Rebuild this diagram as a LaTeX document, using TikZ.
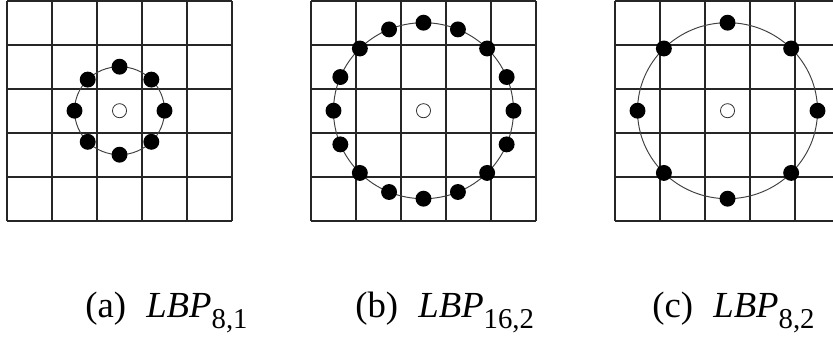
\documentclass[tikz,border=0pt]{standalone}
\usepackage{fontspec}
\setmainfont{Liberation Serif}
\usetikzlibrary{positioning}

% operator name with its lowered index
\newcommand{\lbpname}[1]{\textit{LBP}\raisebox{-0.3em}{\fontsize{18}{18}\selectfont #1}}

\begin{document}
\begin{tikzpicture}[
    x=0.99cm, y=0.968cm,
    % Styles for the pixel grid
    gridline/.style={line width=1.1pt, draw=black!85},
    ring/.style={line width=0.6pt, draw=black!75},
    % Styles for the sampling points
    dot/.style={circle, fill=black, inner sep=0pt, minimum size=0.35cm},
    centre/.style={
        circle,
        draw=black!80,
        line width=0.5pt,
        fill=white,
        inner sep=0pt,
        minimum size=0.31cm
    },
    % Style for the captions
    caption/.style={anchor=base west, inner sep=0pt, font=\fontsize{23}{27}\selectfont}
]

\useasboundingbox (0,0) rectangle (18.511,7.682);

% PANEL (a): 8 neighbours, radius 1
\begin{scope}[shift={(0.156,2.666)}]
    \foreach \k in {0,...,5} {
        \draw[gridline] (\k,0) -- (\k,5);
        \draw[gridline] (0,\k) -- (5,\k);
    }
    \draw[ring] (2.5,2.5) circle[radius=1];
    \node[centre] (ca) at (2.5,2.5) {};
    \foreach \i in {1,...,8} {
        \node[dot] (a\i) at ({2.5+cos(45*\i)},{2.5+sin(45*\i)}) {};
    }
\end{scope}

% PANEL (b): 16 neighbours, radius 2
\begin{scope}[shift={(6.911,2.666)}]
    \foreach \k in {0,...,5} {
        \draw[gridline] (\k,0) -- (\k,5);
        \draw[gridline] (0,\k) -- (5,\k);
    }
    \draw[ring] (2.5,2.5) circle[radius=2];
    \node[centre] (cb) at (2.5,2.5) {};
    \foreach \i in {1,...,16} {
        \node[dot] (b\i) at ({2.5+2*cos(22.5*\i)},{2.5+2*sin(22.5*\i)}) {};
    }
\end{scope}

% PANEL (c): 8 neighbours, radius 2
\begin{scope}[shift={(13.667,2.666)}]
    \foreach \k in {0,...,5} {
        \draw[gridline] (\k,0) -- (\k,5);
        \draw[gridline] (0,\k) -- (5,\k);
    }
    \draw[ring] (2.5,2.5) circle[radius=2];
    \node[centre] (cc) at (2.5,2.5) {};
    \foreach \i in {1,...,8} {
        \node[dot] (c\i) at ({2.5+2*cos(45*\i)},{2.5+2*sin(45*\i)}) {};
    }
\end{scope}

% Captions
\node[caption] (capa) at (1.889,0.477) {(a)\hspace{0.55em}\lbpname{8,1}};
\node[caption] (capb) at (7.889,0.477) {(b)\hspace{0.55em}\lbpname{16,2}};
\node[caption] (capc) at (14.489,0.477) {(c)\hspace{0.55em}\lbpname{8,2}};

\end{tikzpicture}
\end{document}
